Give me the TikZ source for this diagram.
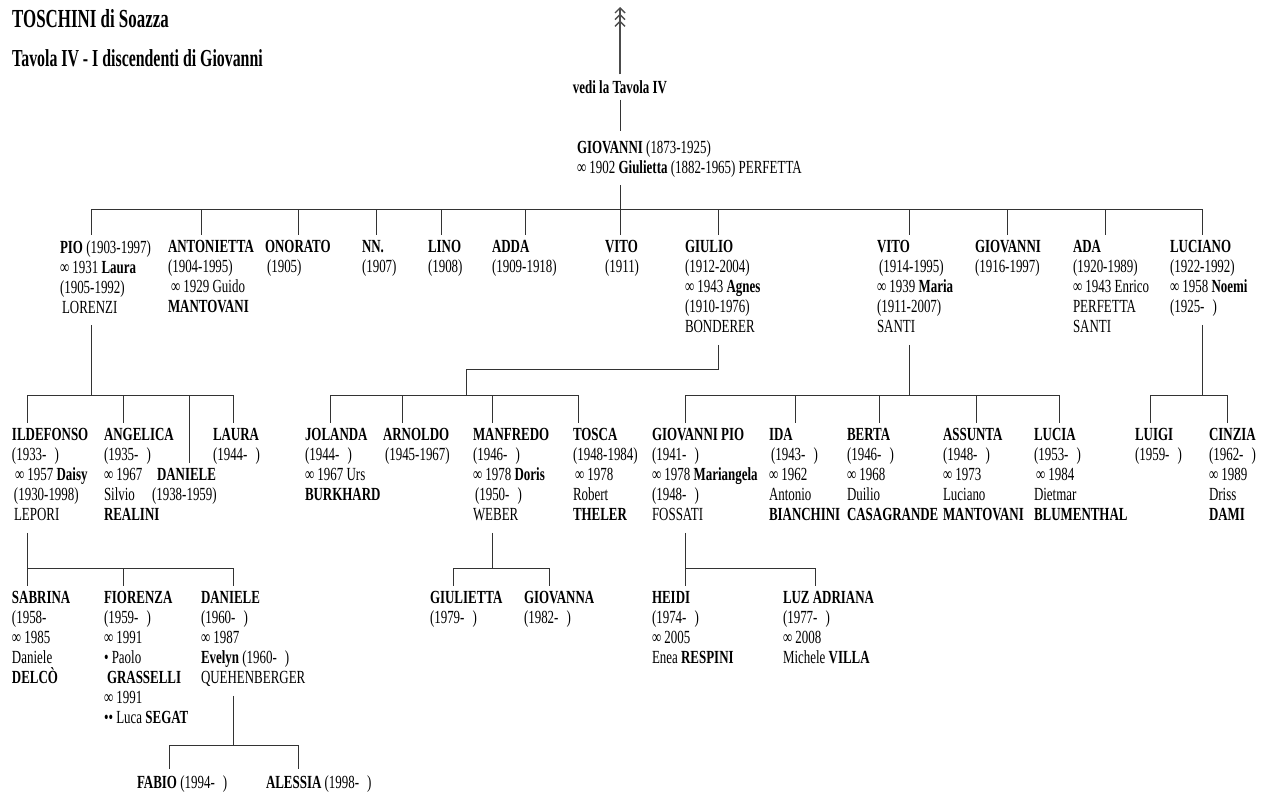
\documentclass[tikz,border=0pt]{standalone}
\usepackage{fontspec}
\setmainfont{Liberation Serif}[FakeStretch=0.7]
\newfontfamily\titlefamily{Liberation Serif}[FakeStretch=0.65]
\usepackage{tikz}
\usetikzlibrary{arrows.meta}

\newcommand{\famfont}{\fontsize{18.5}{20}\selectfont}
\newcommand{\open}{\hspace{8pt})}

\tikzset{
  person/.style={anchor=north west, inner sep=0pt, outer xsep=0pt, outer ysep=6pt,
    align=left, font=\famfont, execute at begin node=\strut},
  heading/.style={anchor=base west, inner sep=0pt},
  link/.style={line width=0.9pt, black!80},
  uparrow/.style={line width=1.4pt, black!70,
    -{Straight Barb[length=5pt,width=10pt] Straight Barb[length=5pt,width=10pt] Straight Barb[length=5pt,width=10pt]}},
}

\begin{document}
\begin{tikzpicture}[x=1pt, y=-1pt]
  \useasboundingbox (0,0) rectangle (1263,796);

  % Titles
  \node[heading, font=\titlefamily\fontsize{26}{28}\selectfont\bfseries] (title) at (12,27) {TOSCHINI di Soazza};
  \node[heading, font=\titlefamily\fontsize{24.4}{28}\selectfont\bfseries] (subtitle) at (12,66) {Tavola IV - I discendenti di Giovanni};

  % Link to the previous table
  \node[font=\famfont\bfseries, inner sep=0pt, outer sep=6pt] (vedi) at (620,87) {vedi la Tavola IV};
  \coordinate (tip) at (620,7);
  \draw[uparrow] (vedi.north) -- (tip);

  % Giovanni and Giulietta
  \node[person] (giov) at (577,134.6) {\textbf{GIOVANNI} (1873-1925)\\ ∞ 1902 \textbf{Giulietta} (1882-1965) PERFETTA};
  \draw[link, shorten >=4pt] (vedi.south) -- (vedi.south |- giov.north);

  % Generation 1
  \node[person] (pio) at (60,234.6) {\textbf{PIO} (1903-1997)\\ ∞ 1931 \textbf{Laura}\\ (1905-1992)\\ \hspace{2pt}LORENZI};
  \node[person] (antonietta) at (168,234.6) {\textbf{ANTONIETTA}\\ (1904-1995)\\ \hspace{3pt}∞ 1929 Guido\\ \textbf{MANTOVANI}};
  \node[person] (onorato) at (265,234.6) {\textbf{ONORATO}\\ \hspace{2pt}(1905)};
  \node[person] (nn) at (362,234.6) {\textbf{NN.}\\ (1907)};
  \node[person] (lino) at (428,234.6) {\textbf{LINO}\\ (1908)};
  \node[person] (adda) at (492,234.6) {\textbf{ADDA}\\ (1909-1918)};
  \node[person] (vitoA) at (605,234.6) {\textbf{VITO}\\ (1911)};
  \node[person] (giulio) at (685,234.6) {\textbf{GIULIO}\\ (1912-2004)\\ ∞ 1943 \textbf{Agnes}\\ (1910-1976)\\ BONDERER};
  \node[person] (vitoB) at (877,234.6) {\textbf{VITO}\\ \hspace{2pt}(1914-1995)\\ ∞ 1939 \textbf{Maria}\\ (1911-2007)\\ SANTI};
  \node[person] (giovanni) at (975,234.6) {\textbf{GIOVANNI}\\ (1916-1997)};
  \node[person] (ada) at (1073,234.6) {\textbf{ADA}\\ (1920-1989)\\ ∞ 1943 Enrico\\ PERFETTA\\ SANTI};
  \node[person] (luciano) at (1170,234.6) {\textbf{LUCIANO}\\ (1922-1992)\\ ∞ 1958 \textbf{Noemi}\\ (1925-\open};

  \coordinate (giov-kids) at (620,209);
  \coordinate (pio-up) at (91,209);
  \coordinate (antonietta-up) at (201,209);
  \coordinate (onorato-up) at (298,209);
  \coordinate (nn-up) at (376,209);
  \coordinate (lino-up) at (441,209);
  \coordinate (adda-up) at (525,209);
  \coordinate (vitoA-up) at (620,209);
  \coordinate (giulio-up) at (718,209);
  \coordinate (vitoB-up) at (909,209);
  \coordinate (giovanni-up) at (1007,209);
  \coordinate (ada-up) at (1105,209);
  \coordinate (luciano-up) at (1202,209);

  \draw[link] (giov.south -| giov-kids) -- (giov-kids);
  \draw[link] (pio-up) -- (luciano-up);
  \draw[link] (pio-up) -- (pio-up |- pio.north);
  \draw[link] (antonietta-up) -- (antonietta-up |- antonietta.north);
  \draw[link] (onorato-up) -- (onorato-up |- onorato.north);
  \draw[link] (nn-up) -- (nn-up |- nn.north);
  \draw[link] (lino-up) -- (lino-up |- lino.north);
  \draw[link] (adda-up) -- (adda-up |- adda.north);
  \draw[link] (vitoA-up) -- (vitoA-up |- vitoA.north);
  \draw[link] (giulio-up) -- (giulio-up |- giulio.north);
  \draw[link] (vitoB-up) -- (vitoB-up |- vitoB.north);
  \draw[link] (giovanni-up) -- (giovanni-up |- giovanni.north);
  \draw[link] (ada-up) -- (ada-up |- ada.north);
  \draw[link] (luciano-up) -- (luciano-up |- luciano.north);

  % Generation 2
  \node[person] (ildefonso) at (12,422.6) {\textbf{ILDEFONSO}\\ (1933-\open\\ \hspace{3pt}∞ 1957 \textbf{Daisy}\\ \hspace{2pt}(1930-1998)\\ \hspace{2pt}LEPORI};
  \node[person] (angelica) at (104,422.6) {\textbf{ANGELICA}\\ (1935-\open\\ ∞ 1967\\ Silvio\\ \textbf{REALINI}};
  \node[person] (daniele) at (152,462.6) {\hspace{5pt}\textbf{DANIELE}\\ (1938-1959)};
  \node[person] (laura) at (213,422.6) {\textbf{LAURA}\\ (1944-\open};
  \node[person] (jolanda) at (305,422.6) {\textbf{JOLANDA}\\ (1944-\open\\ ∞ 1967 Urs\\ \textbf{BURKHARD}};
  \node[person] (arnoldo) at (383,422.6) {\textbf{ARNOLDO}\\ \hspace{2pt}(1945-1967)};
  \node[person] (manfredo) at (473,422.6) {\textbf{MANFREDO}\\ (1946-\open\\ ∞ 1978 \textbf{Doris}\\ \hspace{2pt}(1950-\open\\ WEBER};
  \node[person] (tosca) at (573,422.6) {\textbf{TOSCA}\\ (1948-1984)\\ \hspace{2pt}∞ 1978\\ Robert\\ \textbf{THELER}};
  \node[person] (gpio) at (652,422.6) {\textbf{GIOVANNI PIO}\\ (1941-\open\\ ∞ 1978 \textbf{Mariangela}\\ (1948-\open\\ FOSSATI};
  \node[person] (ida) at (769,422.6) {\textbf{IDA}\\ \hspace{2pt}(1943-\open\\ ∞ 1962\\ Antonio\\ \textbf{BIANCHINI}};
  \node[person] (berta) at (847,422.6) {\textbf{BERTA}\\ (1946-\open\\ ∞ 1968\\ Duilio\\ \textbf{CASAGRANDE}};
  \node[person] (assunta) at (943,422.6) {\textbf{ASSUNTA}\\ (1948-\open\\ ∞ 1973\\ Luciano\\ \textbf{MANTOVANI}};
  \node[person] (lucia) at (1034,422.6) {\textbf{LUCIA}\\ (1953-\open\\ \hspace{2pt}∞ 1984\\ Dietmar\\ \textbf{BLUMENTHAL}};
  \node[person] (luigi) at (1135,422.6) {\textbf{LUIGI}\\ (1959-\open};
  \node[person] (cinzia) at (1209,422.6) {\textbf{CINZIA}\\ (1962-\open\\ ∞ 1989\\ Driss\\ \textbf{DAMI}};

  % Pio's children
  \coordinate (pio-kids) at (91,395);
  \coordinate (ildefonso-up) at (27,395);
  \coordinate (angelica-up) at (123,395);
  \coordinate (daniele-up) at (189,395);
  \coordinate (laura-up) at (233,395);
  \draw[link] (pio.south -| pio-kids) -- (pio-kids);
  \draw[link] (ildefonso-up) -- (laura-up);
  \draw[link] (ildefonso-up) -- (ildefonso-up |- ildefonso.north);
  \draw[link] (angelica-up) -- (angelica-up |- angelica.north);
  \draw[link] (daniele-up) -- (daniele-up |- daniele.north);
  \draw[link] (laura-up) -- (laura-up |- laura.north);

  % Giulio's children
  \coordinate (giulio-bend) at (718,369);
  \coordinate (giulio-kids) at (466,395);
  \coordinate (jolanda-up) at (330,395);
  \coordinate (arnoldo-up) at (402,395);
  \coordinate (manfredo-up) at (492,395);
  \coordinate (tosca-up) at (578,395);
  \draw[link] (giulio.south -| giulio-bend) -- (giulio-bend) -| (giulio-kids);
  \draw[link] (jolanda-up) -- (tosca-up);
  \draw[link] (jolanda-up) -- (jolanda-up |- jolanda.north);
  \draw[link] (arnoldo-up) -- (arnoldo-up |- arnoldo.north);
  \draw[link] (manfredo-up) -- (manfredo-up |- manfredo.north);
  \draw[link] (tosca-up) -- (tosca-up |- tosca.north);

  % Vito's children
  \coordinate (vitoB-kids) at (909,395);
  \coordinate (gpio-up) at (685,395);
  \coordinate (ida-up) at (795,395);
  \coordinate (berta-up) at (879,395);
  \coordinate (assunta-up) at (976,395);
  \coordinate (lucia-up) at (1059,395);
  \draw[link] (vitoB.south -| vitoB-kids) -- (vitoB-kids);
  \draw[link] (gpio-up) -- (lucia-up);
  \draw[link] (gpio-up) -- (gpio-up |- gpio.north);
  \draw[link] (ida-up) -- (ida-up |- ida.north);
  \draw[link] (berta-up) -- (berta-up |- berta.north);
  \draw[link] (assunta-up) -- (assunta-up |- assunta.north);
  \draw[link] (lucia-up) -- (lucia-up |- lucia.north);

  % Luciano's children
  \coordinate (luciano-kids) at (1202,395);
  \coordinate (luigi-up) at (1150,395);
  \coordinate (cinzia-up) at (1227,395);
  \draw[link] (luciano.south -| luciano-kids) -- (luciano-kids);
  \draw[link] (luigi-up) -- (cinzia-up);
  \draw[link] (luigi-up) -- (luigi-up |- luigi.north);
  \draw[link] (cinzia-up) -- (cinzia-up |- cinzia.north);

  % Generation 3
  \node[person] (sabrina) at (12,585.6) {\textbf{SABRINA}\\ (1958-\\ ∞ 1985\\ Daniele\\ \textbf{DELCÒ}};
  \node[person] (fiorenza) at (104,585.6) {\textbf{FIORENZA}\\ (1959-\open\\ ∞ 1991\\ • Paolo\\ \hspace{3pt}\textbf{GRASSELLI}\\ ∞ 1991\\ •• Luca \textbf{SEGAT}};
  \node[person] (danieleB) at (201,585.6) {\textbf{DANIELE}\\ (1960-\open\\ ∞ 1987\\ \textbf{Evelyn} (1960-\open\\ QUEHENBERGER};
  \node[person] (giulietta) at (430,585.6) {\textbf{GIULIETTA}\\ (1979-\open};
  \node[person] (giovanna) at (524,585.6) {\textbf{GIOVANNA}\\ (1982-\open};
  \node[person] (heidi) at (652,585.6) {\textbf{HEIDI}\\ (1974-\open\\ ∞ 2005\\ Enea \textbf{RESPINI}};
  \node[person] (luz) at (783,585.6) {\textbf{LUZ ADRIANA}\\ (1977-\open\\ ∞ 2008\\ Michele \textbf{VILLA}};

  % Ildefonso's children
  \coordinate (ildefonso-kids) at (27,568);
  \coordinate (sabrina-up) at (27,568);
  \coordinate (fiorenza-up) at (123,568);
  \coordinate (danieleB-up) at (233,568);
  \draw[link] (ildefonso.south -| ildefonso-kids) -- (ildefonso-kids);
  \draw[link] (sabrina-up) -- (danieleB-up);
  \draw[link] (sabrina-up) -- (sabrina-up |- sabrina.north);
  \draw[link] (fiorenza-up) -- (fiorenza-up |- fiorenza.north);
  \draw[link] (danieleB-up) -- (danieleB-up |- danieleB.north);

  % Manfredo's children
  \coordinate (manfredo-kids) at (492,568);
  \coordinate (giulietta-up) at (453,568);
  \coordinate (giovanna-up) at (549,568);
  \draw[link] (manfredo.south -| manfredo-kids) -- (manfredo-kids);
  \draw[link] (giulietta-up) -- (giovanna-up);
  \draw[link] (giulietta-up) -- (giulietta-up |- giulietta.north);
  \draw[link] (giovanna-up) -- (giovanna-up |- giovanna.north);

  % Giovanni Pio's children
  \coordinate (gpio-kids) at (685,568);
  \coordinate (heidi-up) at (685,568);
  \coordinate (luz-up) at (815,568);
  \draw[link] (gpio.south -| gpio-kids) -- (gpio-kids);
  \draw[link] (heidi-up) -- (luz-up);
  \draw[link] (heidi-up) -- (heidi-up |- heidi.north);
  \draw[link] (luz-up) -- (luz-up |- luz.north);

  % Generation 4
  \node[person] (fabio) at (137,768.6) {\textbf{FABIO} (1994-\open};
  \node[person] (alessia) at (266,768.6) {\textbf{ALESSIA} (1998-\open};

  \coordinate (danieleB-kids) at (233,745);
  \coordinate (fabio-up) at (169,745);
  \coordinate (alessia-up) at (298,745);
  \draw[link] (danieleB.south -| danieleB-kids) -- (danieleB-kids);
  \draw[link] (fabio-up) -- (alessia-up);
  \draw[link] (fabio-up) -- (fabio-up |- fabio.north);
  \draw[link] (alessia-up) -- (alessia-up |- alessia.north);
\end{tikzpicture}
\end{document}
